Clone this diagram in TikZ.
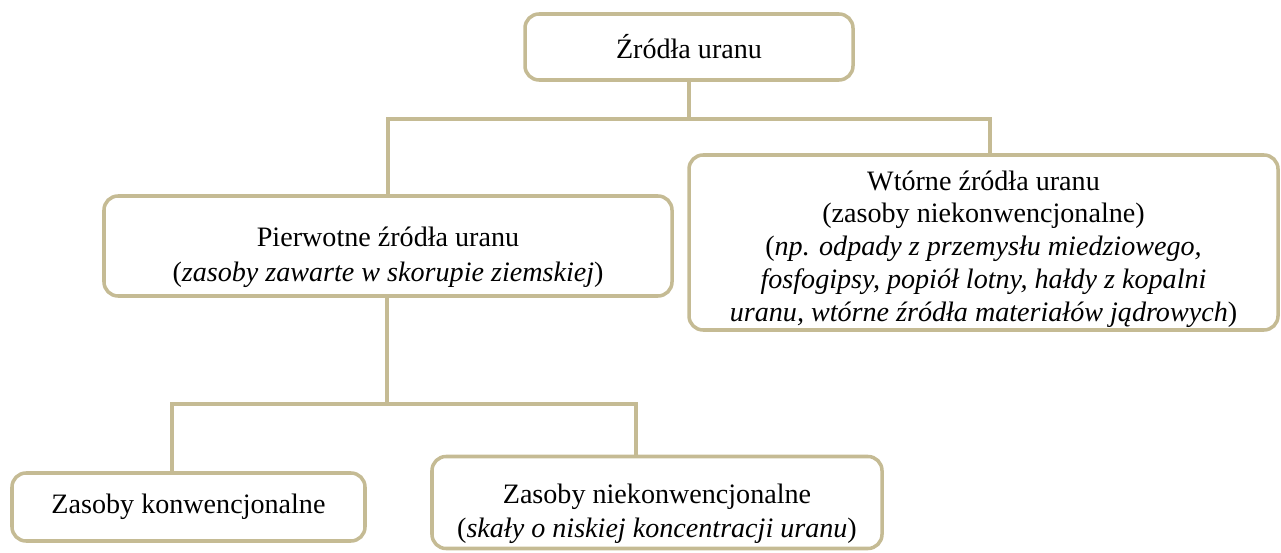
\documentclass[tikz,border=0pt]{standalone}
\usepackage{fontspec}
\setmainfont{Liberation Serif}
\definecolor{tan}{HTML}{C5BB94}
\tikzset{
  box/.style={draw=tan, line width=2pt, rounded corners=8pt, fill=white,
    align=center, inner sep=2pt, font=\fontsize{16}{19.5}\selectfont},
  txt/.style={align=center, inner sep=0pt, font=\fontsize{16}{18.7}\selectfont},
  link/.style={draw=tan, line width=2pt}
}
\newcommand{\lift}{\rule{0pt}{24pt}}
\begin{document}
\begin{tikzpicture}[x=0.02cm,y=-0.02cm]
\useasboundingbox (0,0) rectangle (1281,553);
% boxes
\node[box, minimum width=328*0.02cm, minimum height=66*0.02cm] (zr) at (689,47) {Źródła uranu};
\node[box, minimum width=568*0.02cm, minimum height=100*0.02cm] (pier) at (388,246)
  {\lift Pierwotne źródła uranu\\(\textit{zasoby zawarte w skorupie ziemskiej})};
\node[box, minimum width=589*0.02cm, minimum height=175*0.02cm] (wt) at (983.5,242.5) {};
\node[txt] (wtx) at (983.5,249)
  {Wtórne źródła uranu\\(zasoby niekonwencjonalne)\\
   (\textit{np. odpady z przemysłu miedziowego,}\\
   \textit{fosfogipsy, popiół lotny, hałdy z kopalni}\\
   \textit{uranu, wtórne źródła materiałów jądrowych})};
\node[box, minimum width=353*0.02cm, minimum height=68*0.02cm] (konw) at (188.5,507) {Zasoby konwencjonalne};
\node[box, minimum width=450*0.02cm, minimum height=92*0.02cm] (niek) at (657,502.5)
  {\lift Zasoby niekonwencjonalne\\(\textit{skały o niskiej koncentracji uranu})};
% connectors
\coordinate (j1) at (689,119);
\coordinate (j2) at (387,404);
\draw[link] (zr.south) -- (j1) -| (pier.north);
\draw[link] (j1) -| ([xshift=6.5*0.02cm]wt.north);
\draw[link] (pier.south -| j2) -- (j2) -| (konw.north -| 172,0);
\draw[link] (j2) -| (niek.north -| 636,0);
\end{tikzpicture}
\end{document}
